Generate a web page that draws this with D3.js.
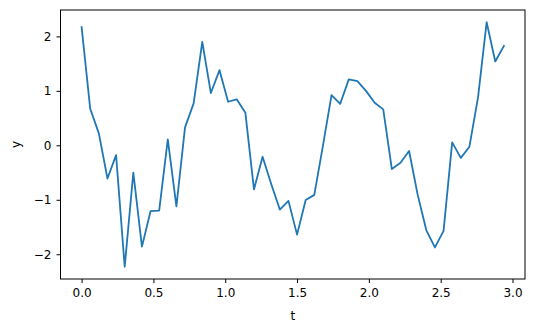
<!DOCTYPE html>
<html>
<head>
<meta charset="utf-8">
<script src="https://d3js.org/d3.v7.min.js"></script>
<style>
body{margin:0;background:#fff;}
svg{display:block;}
text{font-family:"DejaVu Sans",sans-serif;fill:#000;}
</style>
</head>
<body>
<script>
// sample times (step 0.06) and values
var tVals=d3.range(50).map(function(i){return +(i*0.06).toFixed(2);});
var yVals=[2.17,0.67,0.22,-0.61,-0.18,-2.23,-0.50,-1.86,-1.21,-1.20,
	0.11,-1.12,0.33,0.77,1.90,0.96,1.38,0.80,0.845,0.60,
	-0.81,-0.21,-0.71,-1.18,-1.02,-1.64,-1.005,-0.91,-0.01,0.92,
	0.76,1.21,1.18,1.00,0.78,0.66,-0.435,-0.32,-0.105,-0.91,
	-1.56,-1.875,-1.57,0.055,-0.23,-0.025,0.88,2.26,1.54,1.825];
var xTicks=[0,0.5,1,1.5,2,2.5,3];
var yTicks=[-2,-1,0,1,2];

var W=534,H=332;
// axes box (window.top is taken, so plain names are prefixed)
var axL=60.5,axT=10,axR=525,axB=279;

var svg=d3.select("body").append("svg")
	.attr("width",W)
	.attr("height",H);

// matplotlib style 5% margins
function pad(ext){
	var r=ext[1]-ext[0];
	return [ext[0]-0.05*r,ext[1]+0.05*r];
}
var x=d3.scaleLinear().domain(pad(d3.extent(tVals))).range([axL,axR]);
var y=d3.scaleLinear().domain(pad(d3.extent(yVals))).range([axB,axT]);

var data=tVals.map(function(t,i){return [t,yVals[i]];});

svg.append("path")
	.datum(data)
	.attr("fill","none")
	.attr("stroke","#1f77b4")
	.attr("stroke-width",1.8)
	.attr("stroke-linejoin","round")
	.attr("stroke-linecap","square")
	.attr("d",d3.line().x(function(d){return x(d[0]);}).y(function(d){return y(d[1]);}));

var xAxis=svg.append("g")
	.attr("transform","translate(0,"+axB+")")
	.call(d3.axisBottom(x).tickValues(xTicks).tickFormat(d3.format(".1f")).tickSize(4).tickPadding(5));
var yAxis=svg.append("g")
	.attr("transform","translate("+axL+",0)")
	.call(d3.axisLeft(y).tickValues(yTicks).tickFormat(function(d){return d<0?"\u2212"+(-d):d;}).tickSize(4).tickPadding(5));

svg.selectAll(".domain").remove();
svg.selectAll(".tick line").attr("stroke","#000").attr("stroke-width",1);
svg.selectAll(".tick text").attr("font-family","DejaVu Sans").attr("font-size",12).attr("fill","#000");

// frame
svg.append("rect")
	.attr("x",axL).attr("y",axT)
	.attr("width",axR-axL).attr("height",axB-axT)
	.attr("fill","none").attr("stroke","#000").attr("stroke-width",1);

svg.append("text")
	.attr("x",(axL+axR)/2).attr("y",320)
	.attr("text-anchor","middle")
	.attr("font-size",12)
	.text("t");
svg.append("text")
	.attr("transform","translate(20,"+((axT+axB)/2)+") rotate(-90)")
	.attr("text-anchor","middle")
	.attr("font-size",12)
	.text("y");
</script>
</body>
</html>
